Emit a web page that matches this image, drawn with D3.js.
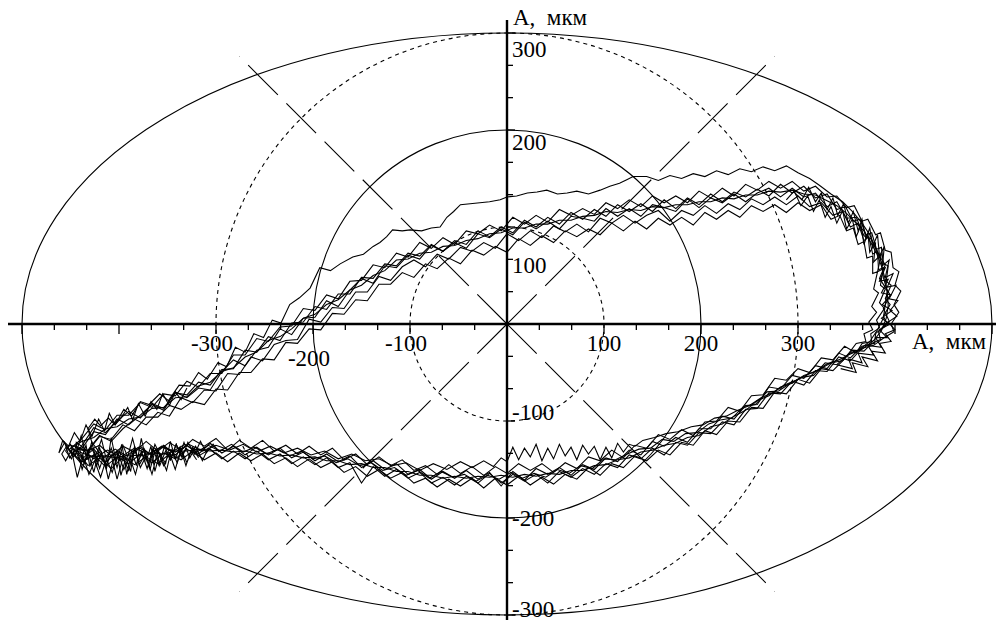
<!DOCTYPE html>
<html>
<head>
<meta charset="utf-8">
<script src="https://cdn.jsdelivr.net/npm/d3@7"></script>
<style>
html,body{margin:0;padding:0;background:#fff;}
svg{display:block;}
text{font-family:"Liberation Serif","Times New Roman",serif;fill:#000;}
</style>
</head>
<body>
<svg id="chart" width="1008" height="631"></svg>
<script>
// ---------------- data (units: мкм) ----------------
const xTickLabels = [-300, -200, -100, 100, 200, 300];
const yTickLabels = [300, 200, 100, -100, -200, -300];
const axisTitle = "A,\u00A0\u00A0мкм";
const gridSolidRadii = [200];
const gridDashedRadii = [100, 300];
const outerRadiusX = 500;
const outerRadiusY = 300;
const diagonalRadius = 390;

const traceA = [[-450,-125],[-438,-128],[-426,-111],[-414,-114],[-402,-98],[-390,-104],[-378,-94],[-366,-83],[-354,-89],[-342,-70],[-330,-76],[-318,-66],[-306,-68],[-294,-49],[-282,-37],[-270,-43],[-258,-27],[-246,-24],[-234,-5],[-222,-11],[-210,6],[-198,7],[-186,24],[-174,18],[-162,35],[-150,47],[-138,42],[-126,60],[-114,58],[-102,71],[-90,67],[-78,81],[-66,75],[-54,84],[-42,78],[-30,93],[-18,89],[-6,98],[6,92],[18,105],[30,98],[42,106],[54,98],[66,111],[78,109],[90,106],[102,119],[114,111],[126,119],[138,111],[150,123],[162,120],[174,116],[186,129],[198,120],[210,130],[222,125],[234,134],[246,126],[258,135],[270,140],[282,131],[294,140],[306,131],[318,135],[330,121],[340,126],[350,109],[360,110],[368,91],[375,88],[386,67],[390,61],[384,47],[395,30],[388,16],[394,3],[380,-10],[379,-20],
[366,-23],[354,-35],[342,-30],[330,-46],[318,-43],[306,-56],[294,-53],[282,-67],[270,-65],[258,-83],[246,-84],[234,-98],[222,-95],[210,-108],[198,-108],[186,-122],[174,-117],[162,-126],[150,-121],[138,-135],[126,-130],[114,-142],[102,-138],[90,-150],[78,-145],[66,-156],[54,-148],[42,-155],[30,-149],[18,-161],[6,-152],[-6,-167],[-18,-153],[-30,-160],[-42,-151],[-54,-159],[-66,-152],[-78,-160],[-90,-150],[-102,-155],[-114,-144],[-126,-150],[-138,-141],[-150,-148],[-162,-136],[-174,-142],[-186,-134],[-198,-141],[-210,-132],[-222,-138],[-234,-128],[-246,-135],[-258,-127],[-270,-135],[-282,-126],[-294,-133],[-306,-123],[-318,-134],[-330,-125],[-342,-135],[-354,-125],[-366,-136],[-378,-126],[-390,-140],[-402,-131],[-414,-143],[-426,-129],[-438,-139],[-450,-125]];

const traceB = [[-444,-128],[-432,-130],[-420,-115],[-408,-121],[-396,-108],[-384,-98],[-372,-104],[-360,-91],[-348,-95],[-336,-76],[-324,-81],[-312,-68],[-300,-69],[-288,-51],[-276,-52],[-264,-34],[-252,-38],[-240,-21],[-228,-17],[-216,-16],[-204,5],[-192,2],[-180,17],[-168,16],[-156,33],[-144,33],[-132,49],[-120,45],[-108,59],[-96,66],[-84,59],[-72,72],[-60,67],[-48,79],[-36,75],[-24,84],[-12,78],[0,93],[12,86],[24,96],[36,89],[48,101],[60,95],[72,103],[84,95],[96,109],[108,104],[120,112],[132,104],[144,112],[156,117],[168,106],[180,117],[192,112],[204,122],[216,114],[228,124],[240,118],[252,129],[264,123],[276,131],[288,123],[300,132],[312,121],[324,125],[336,112],[346,116],[354,100],[362,104],[368,86],[373,90],[377,72],[382,75],[383,56],[388,58],[385,40],[390,36],[384,22],[389,16],[381,4],[384,-4],[375,-10],[376,-18],[366,-20],
[360,-30],[348,-23],[336,-37],[324,-35],[312,-50],[300,-46],[288,-58],[276,-56],[264,-73],[252,-74],[240,-90],[228,-86],[216,-100],[204,-101],[192,-115],[180,-109],[168,-119],[156,-114],[144,-128],[132,-125],[120,-138],[108,-130],[96,-141],[84,-137],[72,-149],[60,-143],[48,-153],[36,-144],[24,-151],[12,-144],[0,-154],[-12,-147],[-24,-156],[-36,-147],[-48,-154],[-60,-145],[-72,-155],[-84,-146],[-96,-151],[-108,-140],[-120,-146],[-132,-137],[-144,-145],[-156,-134],[-168,-140],[-180,-128],[-192,-135],[-204,-126],[-216,-134],[-228,-125],[-240,-131],[-252,-120],[-264,-128],[-276,-120],[-288,-130],[-300,-118],[-312,-126],[-324,-119],[-336,-130],[-348,-122],[-360,-131],[-372,-121],[-384,-132],[-396,-126],[-408,-136],[-420,-125],[-432,-131],[-444,-122],[-444,-128]];

const traceC = [[-452,-130],[-438,-118],[-426,-103],[-414,-109],[-402,-94],[-390,-94],[-378,-81],[-366,-86],[-354,-72],[-342,-74],[-330,-59],[-318,-65],[-306,-51],[-294,-51],[-282,-32],[-270,-32],[-258,-15],[-246,-18],[-234,-3],[-222,-2],[-210,16],[-198,14],[-186,30],[-174,26],[-162,44],[-150,45],[-138,61],[-126,58],[-114,73],[-102,69],[-90,84],[-78,78],[-66,89],[-54,82],[-42,96],[-30,93],[-18,102],[-6,96],[6,110],[18,103],[30,112],[42,105],[54,118],[66,112],[78,119],[90,113],[102,125],[114,119],[126,128],[138,121],[150,132],[162,125],[174,132],[186,125],[198,137],[210,130],[222,140],[234,132],[246,144],[258,138],[270,147],[282,140],[294,147],[306,137],[318,142],[330,131],[340,132],[350,120],[358,122],[366,106],[372,108],[380,92],[385,94],[390,76],[396,74],[398,58],[404,54],[400,40],[406,34],[399,20],[404,12],[396,0],[399,-8],[389,-14],[378,-22],
[366,-25],[354,-38],[342,-34],[330,-49],[318,-48],[306,-63],[294,-59],[282,-72],[270,-71],[258,-87],[246,-88],[234,-104],[222,-101],[210,-113],[198,-112],[186,-125],[174,-122],[162,-135],[150,-128],[138,-139],[126,-135],[114,-148],[102,-144],[90,-155],[78,-149],[66,-158],[54,-152],[42,-164],[30,-155],[18,-162],[6,-155],[-6,-164],[-18,-154],[-30,-164],[-42,-157],[-54,-166],[-66,-158],[-78,-164],[-90,-153],[-102,-159],[-114,-150],[-126,-157],[-138,-147],[-150,-164],[-162,-143],[-174,-148],[-186,-138],[-198,-145],[-210,-137],[-222,-144],[-234,-134],[-246,-140],[-258,-131],[-270,-139],[-282,-131],[-294,-139],[-306,-129],[-318,-136],[-330,-129],[-342,-139],[-354,-133],[-366,-143],[-378,-134],[-390,-144],[-402,-137],[-414,-147],[-426,-135],[-438,-142],[-452,-130]];

const traceD = [[-444,-129],[-432,-131],[-420,-116],[-408,-119],[-396,-104],[-384,-110],[-372,-96],[-360,-96],[-348,-84],[-336,-88],[-324,-80],[-312,-83],[-300,-67],[-288,-68],[-276,-50],[-264,-50],[-252,-36],[-240,-37],[-228,-19],[-216,-20],[-204,-5],[-192,-6],[-180,11],[-168,10],[-156,25],[-144,24],[-132,41],[-120,41],[-108,53],[-96,48],[-84,62],[-72,57],[-60,68],[-48,62],[-36,76],[-24,71],[-12,80],[0,74],[12,88],[24,81],[36,91],[48,84],[60,96],[72,90],[84,98],[96,92],[108,104],[120,96],[132,106],[144,98],[156,109],[168,102],[180,110],[192,102],[204,115],[216,108],[228,117],[240,110],[252,122],[264,116],[276,123],[288,115],[300,125],[312,117],[324,123],[334,108],[343,112],[350,96],[357,99],[362,82],[368,85],[371,68],[377,70],[377,52],[382,54],[378,36],[383,32],[376,18],[381,12],[373,2],[377,-6],[368,-10],[370,-18],[360,-20],
[348,-36],[336,-48],[324,-46],[312,-61],[300,-57],[288,-72],[276,-70],[264,-87],[252,-86],[240,-101],[228,-100],[216,-114],[204,-110],[192,-125],[180,-122],[168,-135],[156,-130],[144,-141],[132,-136],[120,-148],[108,-144],[96,-156],[84,-148],[72,-160],[60,-155],[48,-165],[36,-158],[24,-166],[12,-157],[0,-166],[-12,-159],[-24,-169],[-36,-159],[-48,-167],[-60,-160],[-72,-168],[-84,-159],[-96,-164],[-108,-153],[-120,-159],[-132,-150],[-144,-157],[-156,-147],[-168,-153],[-180,-142],[-192,-148],[-204,-139],[-216,-147],[-228,-138],[-240,-144],[-252,-134],[-264,-141],[-276,-133],[-288,-142],[-300,-133],[-312,-140],[-324,-131],[-336,-140],[-348,-134],[-360,-144],[-372,-137],[-384,-145],[-396,-137],[-408,-149],[-420,-138],[-432,-146],[-444,-129]];

const traceE = [[-432,-108],[-425,-98],[-419,-105],[-411,-97],[-404,-104],[-395,-88],[-387,-95],[-378,-80],[-369,-83],[-358,-72],[-349,-79],[-338,-63],[-327,-64],[-318,-50],[-309,-57],[-298,-40],[-289,-44],[-280,-24],[-270,-29],[-261,-10],[-251,-14],[-242,4],[-233,1],[-224,20],[-214,27],[-203,37],[-193,58],[-182,55],[-172,62],[-159,69],[-148,72],[-138,80],[-131,84],[-124,90],[-118,97],[-108,96],[-100,97],[-88,96],[-78,99],[-69,100],[-62,110],[-55,116],[-48,123],[-38,124],[-28,125],[-18,126],[-7,128],[0,131],[10,132],[21,135],[31,136],[41,138],[52,134],[62,135],[72,137],[84,134],[96,138],[106,142],[116,145],[124,149],[130,152],[144,152],[156,148],[168,153],[180,150],[192,155],[204,152],[216,158],[228,154],[240,160],[252,157],[264,162],[276,158],[288,163],[300,156],[312,150],[322,143],[334,134],[346,126],[356,116],[366,104],[374,92],[380,78],[386,64],[388,48],[392,34],[390,20],[388,6],[382,-6],[374,-18],
[364,-26],[352,-31],[340,-42],[328,-40],[316,-53],[304,-55],[292,-61],[280,-69],[268,-70],[256,-83],[244,-85],[232,-97],[220,-99],[208,-103],[196,-112],[184,-113],[172,-121],[160,-119],[148,-128],[136,-129],[124,-134],[112,-140],[100,-139],[88,-149],[76,-146],[64,-154],[52,-150],[40,-158],[28,-154],[16,-159],[4,-153],[-8,-160],[-20,-156],[-32,-162],[-44,-155],[-56,-158],[-68,-152],[-80,-159],[-92,-151],[-104,-156],[-116,-148],[-128,-151],[-140,-143],[-152,-146],[-164,-139],[-176,-143],[-188,-136],[-200,-139],[-212,-131],[-224,-136],[-236,-129],[-248,-134],[-260,-127],[-272,-132],[-284,-124],[-296,-131],[-308,-125],[-320,-132],[-332,-124],[-344,-131],[-356,-126],[-368,-134],[-380,-127],[-392,-136],[-404,-129],[-416,-138],[-428,-122],[-432,-108]];

const traceF = [[-440,-128],[-426,-107],[-414,-112],[-402,-100],[-390,-90],[-378,-97],[-366,-82],[-354,-87],[-342,-71],[-330,-73],[-318,-60],[-306,-63],[-294,-47],[-282,-46],[-270,-27],[-258,-29],[-246,-13],[-234,-17],[-222,1],[-210,2],[-198,18],[-186,15],[-174,31],[-162,31],[-150,48],[-138,47],[-126,62],[-114,60],[-102,73],[-90,70],[-78,82],[-66,75],[-54,86],[-42,82],[-30,96],[-18,90],[-6,100],[6,94],[18,107],[30,100],[42,110],[54,103],[66,115],[78,108],[90,118],[102,111],[114,123],[126,116],[138,124],[150,116],[162,128],[174,119],[186,130],[198,123],[210,134],[222,126],[234,136],[246,131],[258,139],[270,132],[282,144],[294,135],[306,142],[318,130],[330,134],[340,118],[349,121],[357,106],[364,108],[370,92],[376,94],[381,77],[386,79],[388,62],[393,60],[391,44],[396,40],[390,26],[395,20],[388,8],[392,0],[383,-8],[385,-16],[376,-20],
[368,-28],[356,-27],[346,-38],[334,-40],[322,-47],[310,-52],[298,-58],[286,-63],[274,-71],[262,-76],[250,-84],[238,-89],[226,-95],[214,-97],[202,-104],[190,-106],[176,-111],[164,-113],[152,-117],[140,-120],[132,-126],[126,-124],[120,-132],[114,-123],[108,-138],[102,-127],[96,-140],[90,-126],[84,-134],[78,-125],[72,-140],[66,-127],[60,-136],[54,-124],[48,-139],[42,-128],[36,-141],[30,-124],[24,-137],[18,-128],[12,-140],[6,-127],[0,-142],[-6,-138],[-14,-147],[-24,-141],[-36,-148],[-48,-142],[-62,-150],[-76,-144],[-90,-151],[-104,-143],[-118,-146],[-132,-139],[-146,-141],[-160,-134],[-174,-139],[-188,-131],[-202,-135],[-216,-128],[-230,-133],[-244,-126],[-258,-132],[-272,-124],[-286,-130],[-300,-125],[-314,-131],[-328,-124],[-342,-132],[-356,-127],[-370,-134],[-384,-128],[-398,-137],[-412,-130],[-426,-139],[-440,-128]];

const traceG = [[-450,-128],[-438,-121],[-426,-117],[-414,-108],[-402,-106],[-390,-98],[-378,-96],[-366,-87],[-354,-86],[-342,-76],[-330,-75],[-318,-64],[-306,-60],[-294,-49],[-282,-45],[-270,-34],[-258,-29],[-246,-17],[-234,-13],[-222,-5],[-210,6],[-198,10],[-186,20],[-174,25],[-162,35],[-150,40],[-138,50],[-126,55],[-114,66],[-102,67],[-90,73],[-78,74],[-66,80],[-54,81],[-42,86],[-30,88],[-18,93],[-6,94],[6,99],[18,99],[30,103],[42,103],[54,107],[66,107],[78,111],[90,112],[102,116],[114,115],[126,118],[138,117],[150,121],[162,120],[174,123],[186,123],[198,126],[210,126],[222,130],[234,129],[246,133],[258,133],[270,137],[282,136],[294,138],[306,134],[318,133],[330,127],[340,122],[350,114],[360,104],[368,96],[375,84],[381,73],[386,60],[390,46],[392,33],[393,19],[391,6],[386,-7],[378,-17],
[366,-26],[354,-31],[342,-37],[330,-41],[318,-49],[306,-53],[294,-61],[282,-65],[270,-74],[258,-79],[246,-89],[234,-95],[222,-103],[210,-106],[198,-115],[186,-117],[174,-123],[162,-125],[150,-130],[138,-132],[126,-138],[114,-140],[102,-145],[90,-146],[78,-151],[66,-151],[54,-155],[42,-154],[30,-157],[18,-155],[6,-158],[-6,-156],[-18,-158],[-30,-157],[-42,-159],[-54,-157],[-66,-159],[-78,-156],[-90,-156],[-102,-152],[-114,-152],[-126,-148],[-138,-148],[-150,-144],[-162,-145],[-174,-141],[-186,-141],[-198,-137],[-210,-138],[-222,-135],[-234,-136],[-246,-133],[-258,-134],[-270,-131],[-282,-132],[-294,-130],[-306,-131],[-318,-129],[-330,-131],[-342,-131],[-354,-134],[-366,-133],[-378,-136],[-390,-135],[-402,-138],[-414,-136],[-426,-137],[-438,-133],[-450,-128]];

const leftTipA = [[-330,-128],[-336,-136],[-341,-124],[-347,-140],[-352,-131],[-358,-146],[-362,-128],[-368,-150],[-373,-134],[-379,-145],[-384,-126],[-388,-152],[-393,-138],[-398,-156],[-402,-131],[-407,-144],[-411,-160],[-416,-137],[-420,-149],[-425,-132],[-430,-147],[-434,-125],[-440,-142],[-445,-130],[-451,-138],[-456,-122],[-462,-133],[-458,-120],[-452,-126],[-446,-112],[-440,-121],[-434,-104],[-428,-116],[-421,-98],[-415,-110],[-410,-92],[-404,-104],[-398,-97],[-391,-86],[-386,-99],[-380,-82],[-373,-95],[-367,-80],[-361,-88],[-355,-72],[-348,-84],[-342,-70],[-336,-78],[-330,-66]];

const leftTipB = [[-300,-134],[-308,-128],[-314,-141],[-321,-126],[-327,-138],[-333,-122],[-340,-143],[-346,-130],[-351,-151],[-357,-136],[-363,-124],[-369,-147],[-374,-129],[-380,-141],[-386,-118],[-391,-137],[-396,-125],[-402,-148],[-408,-128],[-413,-140],[-418,-119],[-424,-136],[-429,-127],[-436,-144],[-441,-128],[-447,-137],[-454,-126],[-459,-134],[-455,-141],[-449,-130],[-443,-158],[-437,-136],[-431,-155],[-425,-141],[-419,-158],[-413,-139],[-407,-153],[-401,-133],[-395,-150],[-389,-137],[-383,-155],[-377,-131],[-371,-149],[-365,-128],[-359,-145],[-353,-126],[-347,-140],[-341,-124],[-335,-138],[-329,-122],[-322,-134],[-316,-121],[-310,-133],[-303,-124],[-297,-132]];

const leftTipC = [[-320,-140],[-326,-131],[-331,-146],[-337,-127],[-342,-139],[-347,-121],[-352,-144],[-358,-133],[-363,-152],[-367,-126],[-372,-141],[-377,-118],[-382,-146],[-387,-131],[-392,-155],[-397,-124],[-403,-142],[-408,-117],[-413,-150],[-418,-132],[-423,-146],[-428,-121],[-433,-140],[-439,-115],[-445,-136],[-450,-124],[-455,-131],[-449,-139],[-444,-125],[-438,-150],[-432,-131],[-426,-153],[-420,-128],[-414,-147],[-408,-135],[-402,-160],[-396,-138],[-390,-151],[-384,-129],[-378,-148],[-372,-136],[-366,-155],[-360,-131],[-354,-146],[-348,-133],[-342,-150],[-336,-129],[-330,-143],[-324,-127],[-318,-138]];

const rightBulgeA = [[296,136],[304,128],[311,141],[318,126],[324,135],[330,118],[336,130],[341,112],[347,124],[352,104],[357,116],[362,96],[366,108],[370,88],[374,99],[377,80],[382,92],[384,70],[389,80],[387,60],[394,66],[390,48],[398,52],[392,38],[401,40],[394,26],[403,24],[395,14],[402,8],[393,2],[400,-6],[390,-10],[396,-18],[384,-20],[390,-30],[376,-28],[382,-38],[366,-34],[372,-44],[356,-40],[360,-50],[344,-46]];

const rightBulgeB = [[288,128],[296,137],[303,122],[310,132],[316,116],[322,128],[328,110],[334,121],[340,104],[346,117],[350,98],[356,108],[360,90],[365,102],[368,82],[372,94],[374,74],[380,84],[378,64],[386,72],[382,54],[390,58],[384,44],[393,46],[386,32],[396,30],[387,20],[397,14],[386,6],[395,0],[384,-6],[392,-14],[380,-14],[386,-24],[372,-22],[378,-32],[362,-30],[366,-40],[352,-36],[356,-46],[340,-42]];

const traces = [traceA, traceB, traceC, traceD, traceE, traceF, traceG, leftTipA, leftTipB, leftTipC, rightBulgeA, rightBulgeB];

// ---------------- drawing ----------------
const svg = d3.select("#chart");
const cx = 507, cy = 324, k = 0.97;
const x = d3.scaleLinear().domain([-outerRadiusX, outerRadiusX]).range([cx - outerRadiusX * k, cx + outerRadiusX * k]);
const y = d3.scaleLinear().domain([-outerRadiusY, outerRadiusY]).range([cy + outerRadiusY * k, cy - outerRadiusY * k]);
const rpx = r => x(r) - x(0);

svg.append("ellipse").attr("cx", x(0)).attr("cy", y(0))
  .attr("rx", rpx(outerRadiusX)).attr("ry", y(0) - y(outerRadiusY))
  .attr("fill", "none").attr("stroke", "#000").attr("stroke-width", 1.1);

svg.selectAll("circle.solid").data(gridSolidRadii).enter().append("circle")
  .attr("cx", x(0)).attr("cy", y(0)).attr("r", d => rpx(d))
  .attr("fill", "none").attr("stroke", "#000").attr("stroke-width", 1.1);
svg.selectAll("circle.dash").data(gridDashedRadii).enter().append("circle")
  .attr("cx", x(0)).attr("cy", y(0)).attr("r", d => rpx(d))
  .attr("fill", "none").attr("stroke", "#000").attr("stroke-width", 1.1)
  .attr("stroke-dasharray", "4,4");

[45, 135].forEach(a => {
  const t = a * Math.PI / 180;
  const dx = diagonalRadius * Math.cos(t), dy = diagonalRadius * Math.sin(t);
  [1, -1].forEach(s => {
    svg.append("line")
      .attr("x1", x(0)).attr("y1", y(0)).attr("x2", x(s * dx)).attr("y2", y(s * dy))
      .attr("stroke", "#000").attr("stroke-width", 1.1).attr("stroke-dasharray", "42,12");
  });
});

const line = d3.line().x(d => x(d[0])).y(d => y(d[1]));
svg.append("g").selectAll("path").data(traces).enter().append("path")
  .attr("d", line).attr("fill", "none").attr("stroke", "#000").attr("stroke-width", 1.1);

svg.append("line").attr("x1", 8).attr("x2", 996).attr("y1", y(0)).attr("y2", y(0))
  .attr("stroke", "#000").attr("stroke-width", 2.4);
svg.append("line").attr("x1", x(0)).attr("x2", x(0)).attr("y1", 20).attr("y2", 620)
  .attr("stroke", "#000").attr("stroke-width", 2.4);

const xt = d3.range(-15, 16).map(i => i * 100 / 3);
svg.append("g").selectAll("line").data(xt).enter().append("line")
  .attr("x1", d => x(d)).attr("x2", d => x(d))
  .attr("y1", y(0)).attr("y2", (d, i) => y(0) + ((i % 3 === 0) ? 10 : 6))
  .attr("stroke", "#000").attr("stroke-width", 1.3);
const yt = d3.range(-9, 10).map(i => i * 100 / 3);
svg.append("g").selectAll("line").data(yt).enter().append("line")
  .attr("y1", d => y(d)).attr("y2", d => y(d))
  .attr("x1", x(0)).attr("x2", (d, i) => x(0) + ((i % 3 === 0) ? 8 : 6))
  .attr("stroke", "#000").attr("stroke-width", 1.3);

const fs = 23;
svg.append("g").selectAll("text").data(xTickLabels).enter().append("text")
  .attr("x", d => x(d) - (d < 0 ? 4 : 0))
  .attr("y", d => y(0) + (d === -200 ? 42 : 27))
  .attr("text-anchor", "middle").attr("font-size", fs)
  .text(d => d);
const yOff = {"300": 24, "200": 20, "100": 46, "-100": -1, "-200": 8, "-300": 2};
svg.append("g").selectAll("text").data(yTickLabels).enter().append("text")
  .attr("x", x(0) + 5)
  .attr("y", d => y(d) + yOff[String(d)])
  .attr("text-anchor", "start").attr("font-size", fs)
  .text(d => d);
svg.append("text").attr("x", 912).attr("y", 349).attr("font-size", fs).text(axisTitle);
svg.append("text").attr("x", 513).attr("y", 25).attr("font-size", fs).text(axisTitle);
</script>
</body>
</html>
